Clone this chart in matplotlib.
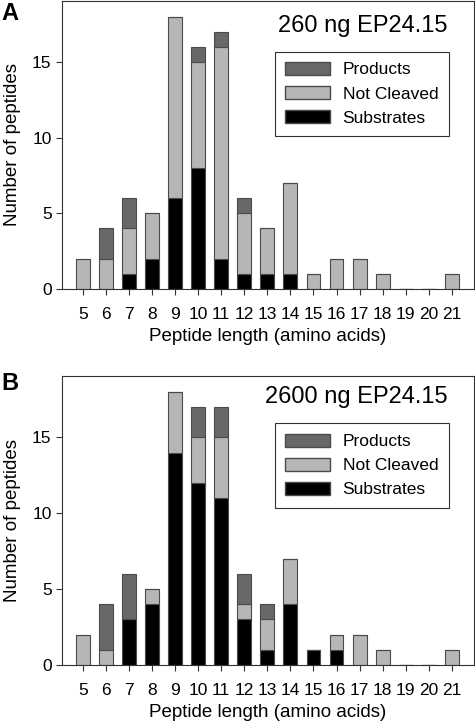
import numpy as np
from matplotlib import pyplot as plt
from matplotlib.patches import Patch

plt.rcParams['font.family'] = ['Liberation Sans', 'DejaVu Sans']

lengths = np.arange(5, 22)

# panel A: 260 ng
subs_a = [0, 0, 1, 2, 6, 8, 2, 1, 1, 1, 0, 0, 0, 0, 0, 0, 0]
notcl_a = [2, 2, 3, 3, 12, 7, 14, 4, 3, 6, 1, 2, 2, 1, 0, 0, 1]
prod_a = [0, 2, 2, 0, 0, 1, 1, 1, 0, 0, 0, 0, 0, 0, 0, 0, 0]

# panel B: 2600 ng
subs_b = [0, 0, 3, 4, 14, 12, 11, 3, 1, 4, 1, 1, 0, 0, 0, 0, 0]
notcl_b = [2, 1, 0, 1, 4, 3, 4, 1, 2, 3, 0, 1, 2, 1, 0, 0, 1]
prod_b = [0, 3, 3, 0, 0, 2, 2, 2, 1, 0, 0, 0, 0, 0, 0, 0, 0]

c_prod = '#686868'
c_notcl = '#b6b6b6'
c_subs = '#000000'
edge = '#4a4a4a'


def panel(ax, subs, notcl, prod, title, leg_top):
    subs = np.array(subs)
    notcl = np.array(notcl)
    prod = np.array(prod)
    w = 0.6
    ax.bar(lengths, subs, w, color=c_subs, edgecolor=edge, linewidth=0.8)
    ax.bar(lengths, notcl, w, bottom=subs, color=c_notcl, edgecolor=edge, linewidth=0.8)
    ax.bar(lengths, prod, w, bottom=subs + notcl, color=c_prod, edgecolor=edge, linewidth=0.8)
    ax.set_xlim(4.1, 21.95)
    ax.set_ylim(0, 19.05)
    ax.set_xticks(lengths)
    ax.set_yticks([0, 5, 10, 15])
    ax.tick_params(labelsize=12.5, length=4, width=0.8, color='#333333')
    ax.tick_params(axis='x', pad=9)
    for s in ax.spines.values():
        s.set_linewidth(0.8)
        s.set_color('#333333')
    ax.set_xlabel('Peptide length (amino acids)', fontsize=13.5, labelpad=4)
    ax.set_ylabel('Number of peptides', fontsize=13.5, labelpad=8)
    ax.text(0.937, leg_top + 0.09, title, transform=ax.transAxes,
            ha='right', va='center', fontsize=17)
    handles = [Patch(facecolor=c_prod, edgecolor=edge, label='Products'),
               Patch(facecolor=c_notcl, edgecolor=edge, label='Not Cleaved'),
               Patch(facecolor=c_subs, edgecolor=edge, label='Substrates')]
    leg = ax.legend(handles=handles, loc='upper right', bbox_to_anchor=(0.939, leg_top),
                    borderaxespad=0, fontsize=12.5, fancybox=False, framealpha=1,
                    handlelength=2.6, handleheight=0.75, labelspacing=0.5,
                    handletextpad=0.7, borderpad=0.6)
    leg.get_frame().set_edgecolor('#333333')
    leg.get_frame().set_linewidth(0.8)


fig = plt.figure(figsize=(4.75, 7.25), dpi=100)
ax1 = fig.add_axes([0.1305, 0.6014, 0.867, 0.3976])
ax2 = fig.add_axes([0.1305, 0.0828, 0.867, 0.3986])

panel(ax1, subs_a, notcl_a, prod_a, '260 ng EP24.15', 0.8235)
panel(ax2, subs_b, notcl_b, prod_b, '2600 ng EP24.15', 0.836)

fig.text(0.003, 1 - 13 / 725, 'A', fontsize=17, fontweight='bold', ha='left', va='center')
fig.text(0.003, 1 - 384 / 725, 'B', fontsize=17, fontweight='bold', ha='left', va='center')

fig.savefig('out.png', dpi=100)
